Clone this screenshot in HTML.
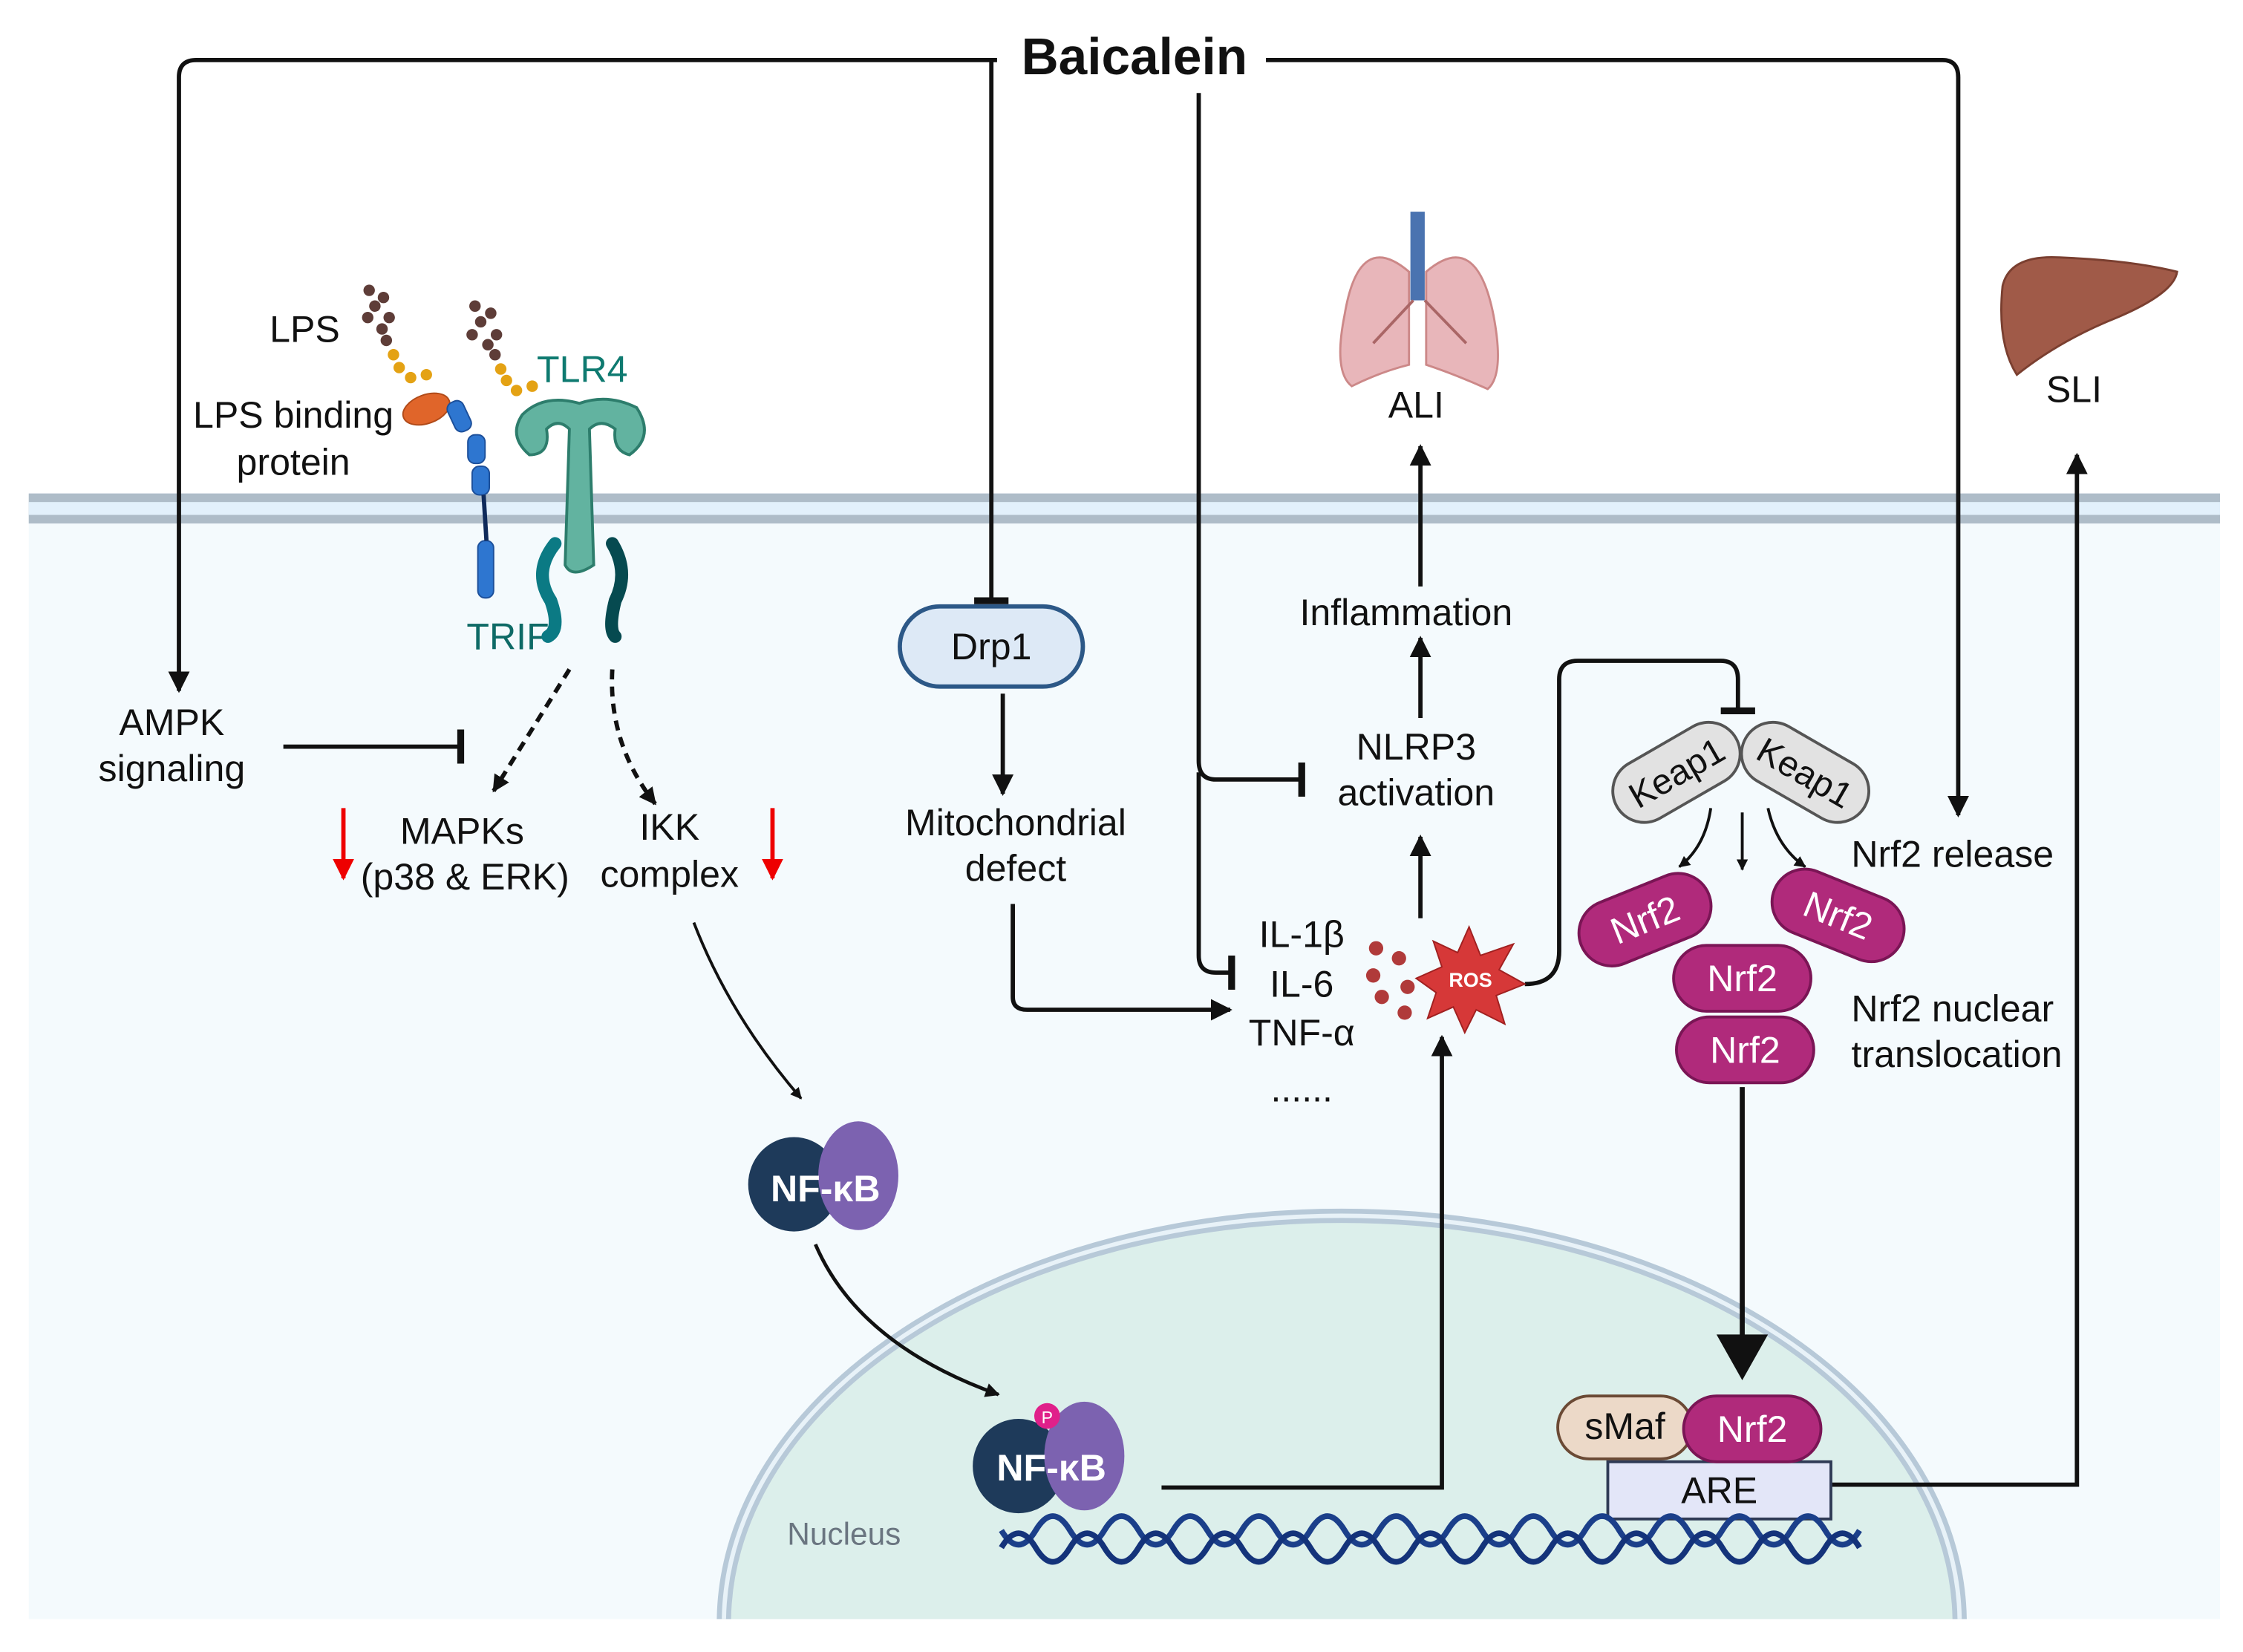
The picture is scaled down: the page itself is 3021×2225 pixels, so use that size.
<!DOCTYPE html>
<html><head><meta charset="utf-8"><style>
html,body{margin:0;padding:0;background:#fff;width:3021px;height:2225px;overflow:hidden}
svg{display:block}
text{font-family:"Liberation Sans",sans-serif;fill:#111}
</style></head><body>
<svg width="3021" height="2225" viewBox="0 0 1568 1155" xmlns="http://www.w3.org/2000/svg">
<defs>
<marker id="a" viewBox="0 0 10 10" refX="9" refY="5" markerWidth="5" markerHeight="5" orient="auto"><path d="M0,0L10,5L0,10z" fill="#111"/></marker>
<marker id="ab" viewBox="0 0 10 10" refX="9" refY="5" markerWidth="4" markerHeight="4" orient="auto"><path d="M0,0L10,5L0,10z" fill="#111"/></marker>
<marker id="ar" viewBox="0 0 10 10" refX="9" refY="5" markerWidth="5" markerHeight="5" orient="auto"><path d="M0,0L10,5L0,10z" fill="#e00"/></marker>
<marker id="t" viewBox="0 0 4 20" refX="2" refY="10" markerWidth="3" markerHeight="8" orient="auto"><rect x="0" y="0" width="4" height="20" fill="#111"/></marker>
</defs>
<rect x="20" y="345" width="1532" height="787" fill="#f4fafd"/>
<rect x="20" y="345" width="1532" height="21" fill="#aebcc8"/>
<rect x="20" y="351" width="1532" height="9" fill="#e2f0fb"/>
<clipPath id="c"><rect x="0" y="0" width="1568" height="1132"/></clipPath>
<g clip-path="url(#c)">
<ellipse cx="938" cy="1135" rx="432" ry="285" fill="#dcefeb" stroke="#b7c9d8" stroke-width="10"/>
<ellipse cx="938" cy="1135" rx="432" ry="285" fill="none" stroke="#e8f2f8" stroke-width="3"/>
</g>
<text x="590" y="1080" font-size="22" text-anchor="middle" style="fill:#6a7580">Nucleus</text>
<text x="793" y="52" font-size="36" font-weight="bold" text-anchor="middle">Baicalein</text>
<g fill="none" stroke="#111" stroke-width="3">
<path d="M697,42H137Q125,42 125,54V483" marker-end="url(#a)"/>
<path d="M693,42V420" marker-end="url(#t)"/>
<path d="M885,42H1358Q1369,42 1369,54V570" marker-end="url(#a)"/>
<path d="M838,65V532Q838,545 850,545H910" marker-end="url(#t)"/>
<path d="M838,540V668Q838,680 850,680H861" marker-end="url(#t)"/>
<path d="M198,522H322" marker-end="url(#t)"/>
<path d="M398,468L345,553" stroke-dasharray="7,5" marker-end="url(#ab)"/>
<path d="M428,468Q425,520 458,562" stroke-dasharray="7,5" marker-end="url(#ab)"/>
<path d="M485,645Q510,710 560,768" stroke-width="2" marker-end="url(#ab)"/>
<path d="M570,870Q600,940 698,975" stroke-width="2.5" marker-end="url(#ab)"/>
<path d="M812,1040H1008V725" marker-end="url(#a)"/>
<path d="M701,485V555" marker-end="url(#a)"/>
<path d="M708,632V697Q708,706 718,706H860" marker-end="url(#a)"/>
<path d="M993,642V585" marker-end="url(#a)"/>
<path d="M993,502V446" marker-end="url(#a)"/>
<path d="M993,410V312" marker-end="url(#a)"/>
<path d="M1066,688Q1090,688 1090,665V475Q1090,462 1103,462H1203Q1215,462 1215,475V497" marker-end="url(#t)"/>
<path d="M1196,565Q1192,592 1174,606" stroke-width="2" marker-end="url(#ab)"/>
<path d="M1218,568V608" stroke-width="2" marker-end="url(#ab)"/>
<path d="M1236,565Q1242,592 1262,606" stroke-width="2" marker-end="url(#ab)"/>
<path d="M1218,760V935" stroke-width="3.5"/>
<path d="M1280,1038H1452V318" marker-end="url(#a)"/>
</g>
<path d="M1200,933L1236,933L1218,965z" fill="#111"/>
<path d="M240,565V614" stroke="#e00" stroke-width="3" marker-end="url(#ar)"/>
<path d="M540,565V614" stroke="#e00" stroke-width="3" marker-end="url(#ar)"/>
<g font-size="26" text-anchor="middle">
<text x="120" y="514">AMPK</text><text x="120" y="546">signaling</text>
<text x="323" y="590">MAPKs</text><text x="325" y="622">(p38 &amp; ERK)</text>
<text x="468" y="587">IKK</text><text x="468" y="620">complex</text>
<text x="710" y="584">Mitochondrial</text><text x="710" y="616">defect</text>
<text x="910" y="662">IL-1β</text><text x="910" y="697">IL-6</text><text x="910" y="731">TNF-α</text><text x="910" y="770">......</text>
<text x="990" y="531">NLRP3</text><text x="990" y="563">activation</text>
<text x="983" y="437">Inflammation</text>
<text x="990" y="292">ALI</text>
<text x="1450" y="281">SLI</text>
<text x="1365" y="606">Nrf2 release</text>
<text x="1365" y="714">Nrf2 nuclear</text><text x="1368" y="746">translocation</text>
<text x="213" y="239">LPS</text>
<text x="205" y="299">LPS binding</text><text x="205" y="332">protein</text>
<text x="407" y="267" style="fill:#0e7a70">TLR4</text>
<text x="355" y="454" style="fill:#0e6a66">TRIF</text>
</g>
<rect x="629" y="424" width="128" height="56" rx="28" fill="#dde9f6" stroke="#2c5887" stroke-width="3"/>
<text x="693" y="461" font-size="26" text-anchor="middle">Drp1</text>
<g transform="translate(1172,540) rotate(-30)"><rect x="-48" y="-22" width="96" height="44" rx="22" fill="#e2e2e2" stroke="#555" stroke-width="2"/><text y="9" font-size="25" text-anchor="middle">Keap1</text></g>
<g transform="translate(1262,540) rotate(30)"><rect x="-48" y="-22" width="96" height="44" rx="22" fill="#e2e2e2" stroke="#555" stroke-width="2"/><text y="9" font-size="25" text-anchor="middle">Keap1</text></g>
<g font-size="26" text-anchor="middle">
<g transform="translate(1150,643) rotate(-22)"><rect x="-48" y="-23" width="96" height="46" rx="23" fill="#b02a7b" stroke="#7a1555" stroke-width="2"/><text y="9" style="fill:#fff">Nrf2</text></g>
<g transform="translate(1285,640) rotate(22)"><rect x="-48" y="-23" width="96" height="46" rx="23" fill="#b02a7b" stroke="#7a1555" stroke-width="2"/><text y="9" style="fill:#fff">Nrf2</text></g>
<g transform="translate(1218,684)"><rect x="-48" y="-23" width="96" height="46" rx="23" fill="#b02a7b" stroke="#7a1555" stroke-width="2"/><text y="9" style="fill:#fff">Nrf2</text></g>
<g transform="translate(1220,734)"><rect x="-48" y="-23" width="96" height="46" rx="23" fill="#b02a7b" stroke="#7a1555" stroke-width="2"/><text y="9" style="fill:#fff">Nrf2</text></g>
<rect x="1089" y="976" width="94" height="44" rx="22" fill="#ecd9c8" stroke="#6b4a35" stroke-width="2"/><text x="1136" y="1006">sMaf</text>
<rect x="1124" y="1022" width="156" height="40" fill="#e3e6f8" stroke="#2f3a55" stroke-width="2"/><text x="1202" y="1051">ARE</text>
<g transform="translate(1225,999)"><rect x="-48" y="-23" width="96" height="46" rx="23" fill="#b02a7b" stroke="#7a1555" stroke-width="2"/><text y="9" style="fill:#fff">Nrf2</text></g>
</g>
<path d="M700,1070 Q712,1090 724,1070 T748,1070 T772,1070 T796,1070 T820,1070 T844,1070 T868,1070 T892,1070 T916,1070 T940,1070 T964,1070 T988,1070 T1012,1070 T1036,1070 T1060,1070 T1084,1070 T1108,1070 T1132,1070 T1156,1070 T1180,1070 T1204,1070 T1228,1070 T1252,1070 T1276,1070 T1300,1070" fill="none" stroke="#1b3f8a" stroke-width="4"/>
<path d="M700,1082 Q712,1062 724,1082 T748,1082 T772,1082 T796,1082 T820,1082 T844,1082 T868,1082 T892,1082 T916,1082 T940,1082 T964,1082 T988,1082 T1012,1082 T1036,1082 T1060,1082 T1084,1082 T1108,1082 T1132,1082 T1156,1082 T1180,1082 T1204,1082 T1228,1082 T1252,1082 T1276,1082 T1300,1082" fill="none" stroke="#14337a" stroke-width="4"/>
<g>
<ellipse cx="555" cy="828" rx="32" ry="33" fill="#1e3a5a"/>
<ellipse cx="600" cy="822" rx="28" ry="38" fill="#7c62b0"/>
<text x="577" y="840" font-size="26" font-weight="bold" text-anchor="middle" style="fill:#fff">NF-κB</text>
<ellipse cx="712" cy="1025" rx="32" ry="33" fill="#1e3a5a"/>
<ellipse cx="758" cy="1018" rx="28" ry="38" fill="#7c62b0"/>
<text x="735" y="1035" font-size="26" font-weight="bold" text-anchor="middle" style="fill:#fff">NF-κB</text>
<circle cx="732" cy="990" r="9" fill="#e0208a"/><text x="732" y="995" font-size="12" text-anchor="middle" style="fill:#fff">P</text>
</g>
<path d="M1027,648L1035,668L1058,660L1048,678L1066,688L1046,696L1052,716L1032,706L1024,722L1016,704L998,712L1004,694L990,684L1008,676L1002,658L1019,666z" fill="#d63838" stroke="#a02020"/>
<text x="1028" y="690" font-size="14" font-weight="bold" text-anchor="middle" style="fill:#fff">ROS</text>
<g fill="#b03a3a"><circle cx="962" cy="663" r="5"/><circle cx="978" cy="670" r="5"/><circle cx="960" cy="682" r="5"/><circle cx="984" cy="690" r="5"/><circle cx="966" cy="697" r="5"/><circle cx="982" cy="708" r="5"/></g>
<rect x="986" y="148" width="10" height="62" fill="#4a73b0"/>
<path d="M985,190Q950,160 940,220Q932,260 945,270Q965,260 985,255Z" fill="#e8b6ba" stroke="#c88" stroke-width="1.5"/>
<path d="M997,190Q1032,160 1044,220Q1052,262 1040,272Q1018,262 997,255Z" fill="#e8b6ba" stroke="#c88" stroke-width="1.5"/>
<path d="M988,210L960,240M996,210L1025,240" stroke="#a66" stroke-width="2"/>
<path d="M1400,200Q1405,178 1440,180Q1490,182 1522,190Q1520,205 1480,222Q1440,238 1410,262Q1396,240 1400,200Z" fill="#a05a48" stroke="#7a3f30" stroke-width="1.5"/>
<g fill="#5e3d38">
<circle cx="258" cy="203" r="4"/><circle cx="268" cy="208" r="4"/><circle cx="262" cy="214" r="4"/><circle cx="257" cy="222" r="4"/><circle cx="272" cy="222" r="4"/><circle cx="267" cy="230" r="4"/><circle cx="270" cy="238" r="4"/>
<circle cx="332" cy="214" r="4"/><circle cx="343" cy="219" r="4"/><circle cx="336" cy="225" r="4"/><circle cx="330" cy="234" r="4"/><circle cx="347" cy="234" r="4"/><circle cx="341" cy="241" r="4"/><circle cx="346" cy="248" r="4"/>
</g>
<g fill="#e4a214"><circle cx="275" cy="248" r="4"/><circle cx="279" cy="257" r="4"/><circle cx="287" cy="264" r="4"/><circle cx="298" cy="262" r="4"/><circle cx="350" cy="258" r="4"/><circle cx="354" cy="266" r="4"/><circle cx="361" cy="273" r="4"/><circle cx="372" cy="270" r="4"/></g>
<ellipse cx="298" cy="286" rx="17" ry="10" transform="rotate(-20 298 286)" fill="#e0652a" stroke="#b04a18"/>
<g fill="#2e76d0" stroke="#1c4f9a"><rect x="315" y="280" width="12" height="22" rx="5" transform="rotate(-25 321 291)"/><rect x="327" y="304" width="12" height="20" rx="5"/><rect x="330" y="326" width="12" height="20" rx="5"/><rect x="334" y="378" width="11" height="40" rx="5"/></g>
<path d="M338,346L340,378" stroke="#0f2a5a" stroke-width="3"/>
<path d="M365,290Q380,275 405,282Q425,275 445,285Q458,305 440,318Q428,315 430,300Q420,292 412,300L415,395Q400,405 395,395L398,300Q390,292 382,300Q385,318 370,318Q355,305 365,290Z" fill="#62b3a0" stroke="#2d7d6c" stroke-width="2"/>
<path d="M388,380Q372,400 385,420Q392,440 383,445" fill="none" stroke="#0b7a84" stroke-width="9" stroke-linecap="round"/>
<path d="M428,380Q440,400 430,420Q425,440 430,445" fill="none" stroke="#064a50" stroke-width="9" stroke-linecap="round"/>
</svg>
</body></html>
